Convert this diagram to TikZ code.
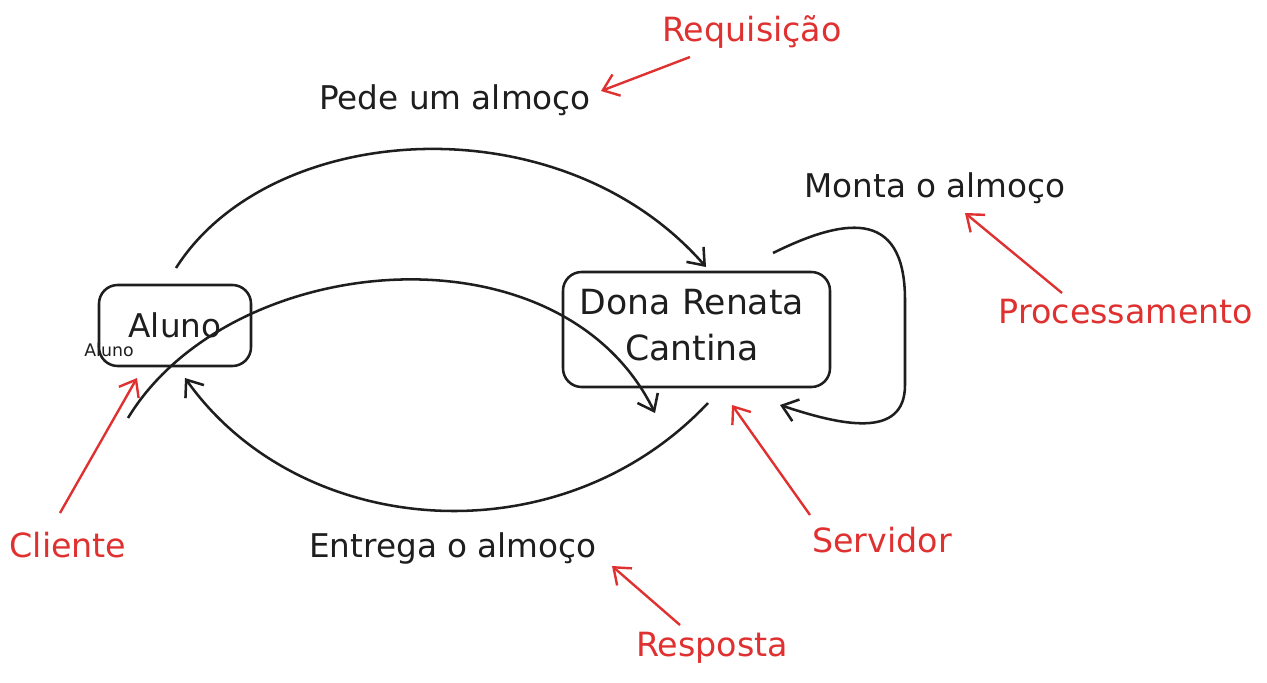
\documentclass[tikz,border=0pt]{standalone}
\usepackage{fontspec}
\setmainfont{DejaVu Sans}
\usetikzlibrary{arrows.meta}
\definecolor{exred}{HTML}{E03131}
\definecolor{exblack}{HTML}{1E1E1E}
\tikzset{
  box/.style={draw=exblack,line width=1.9pt,rounded corners=14pt,inner sep=0pt},
  flow/.style={draw=exblack,line width=1.9pt,-{Straight Barb[length=11pt,width=17pt,line width=1.9pt]}},
  note/.style={draw=exred,line width=1.8pt,-{Straight Barb[length=11pt,width=17pt,line width=1.8pt]}},
  lbl/.style={text=exblack,font=\fontsize{24.5}{29}\selectfont,inner sep=0pt},
  rlbl/.style={text=exred,font=\fontsize{25}{30}\selectfont,inner sep=0pt},
}
\begin{document}
\begin{tikzpicture}[x=0.75pt,y=-0.75pt]
\useasboundingbox (0,0) rectangle (1267,682);
% boxes
\node[box,minimum width=152*0.75pt,minimum height=81*0.75pt] (aluno) at (175,325.5) {};
\node[lbl] (alunotxt) at (175,325) {Aluno};
\node[text=exblack,font=\fontsize{13}{15}\selectfont,inner sep=0pt] (alunosmall) at (109,350) {Aluno};
\node[box,minimum width=267*0.75pt,minimum height=115*0.75pt] (dona) at (696.5,329.5) {};
\node[lbl,align=center,font=\fontsize{26}{35}\selectfont] (donatxt) at (692,325) {Dona Renata\\Cantina};
% black labels
\node[lbl] (pede) at (455,100) {Pede um almoço};
\node[lbl] (monta) at (935,188) {Monta o almoço};
\node[lbl] (entrega) at (453,548) {Entrega o almoço};
% red labels
\node[rlbl] (req) at (752,32) {Requisição};
\node[rlbl] (proc) at (1126,312) {Processamento};
\node[rlbl] (cli) at (68,545) {Cliente};
\node[rlbl] (serv) at (882,540) {Servidor};
\node[rlbl] (resp) at (712,648) {Resposta};
% coordinates for connector ends
\coordinate (a1s) at (176,268);
\coordinate (a1e) at (706,267);
\coordinate (a2s) at (128,418);
\coordinate (a2e) at (655,413);
\coordinate (a3s) at (708,403);
\coordinate (a3e) at (185,378);
\coordinate (lps) at (773,253);
\coordinate (lpe) at (780,405);
% black flows
\draw[flow] (a1s) .. controls (270,120) and (560,100) .. (a1e);
\draw[flow] (a2s) .. controls (230,250) and (560,220) .. (a2e);
\draw[flow] (a3s) .. controls (560,560) and (300,540) .. (a3e);
\draw[flow] (lps) .. controls (840,220) and (905,205) .. (905,300) -- (905,385) .. controls (905,440) and (840,425) .. (lpe);
% red notes
\draw[note] (690,57) -- (601,91);
\draw[note] (1062,293) -- (965,213);
\draw[note] (60,513) -- (137,378);
\draw[note] (810,515) -- (732,405);
\draw[note] (680,625) -- (612,566);
\end{tikzpicture}
\end{document}
